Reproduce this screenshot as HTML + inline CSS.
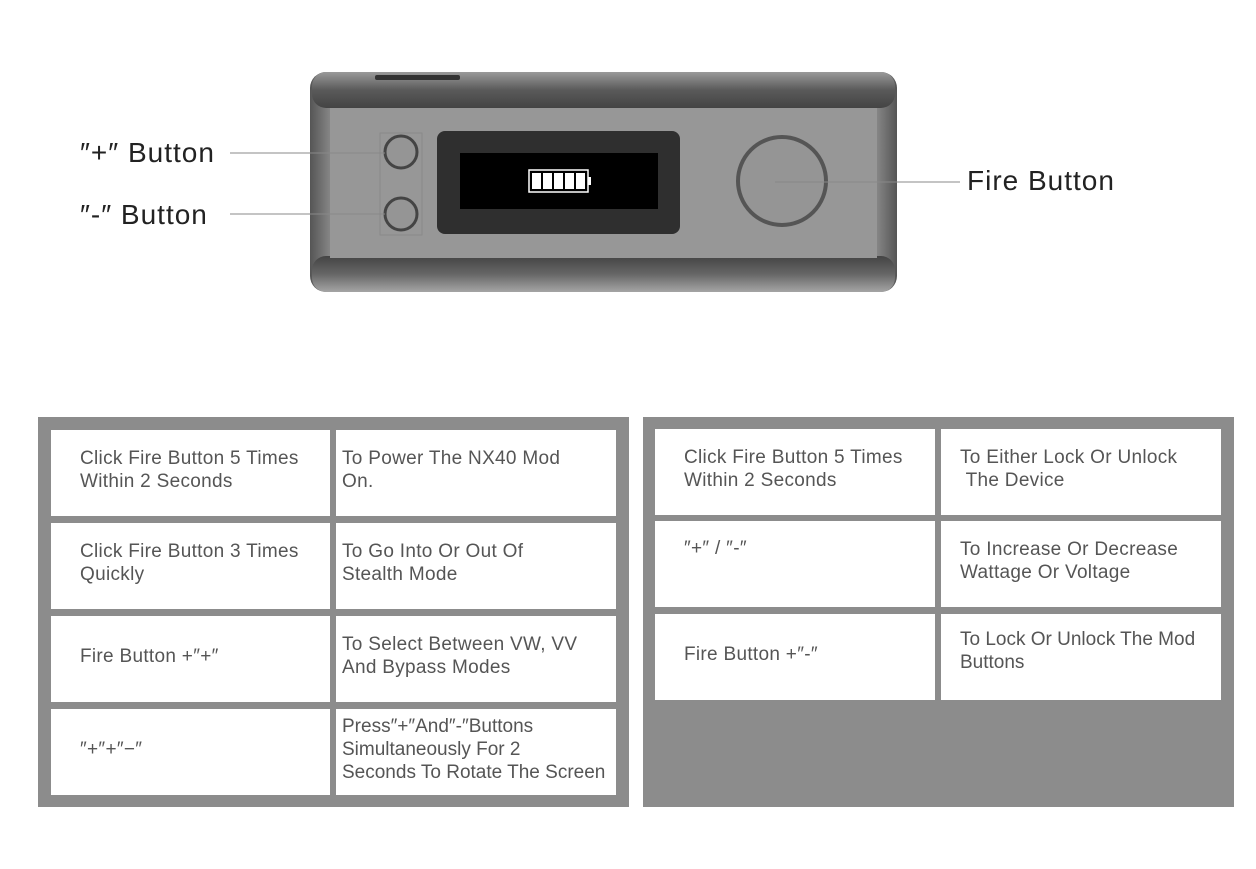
<!DOCTYPE html>
<html><head><style>
body{margin:0;width:1256px;height:869px;background:#fff;position:relative;font-family:"Liberation Sans",sans-serif;overflow:hidden}
.p{position:absolute;background:#8c8c8c}
.c{position:absolute;background:#fff;color:#555;font-size:19px;line-height:23px;display:flex;align-items:center;box-sizing:border-box;padding-left:6px;padding-bottom:6px;letter-spacing:0.3px;white-space:nowrap}
.c.a{padding-left:29px}
.lbl{position:absolute;font-size:28px;color:#222;letter-spacing:1px}
</style></head><body>
<svg width="1256" height="330" style="position:absolute;left:0;top:0">
<defs>
<linearGradient id="g1" x1="0" y1="0" x2="0" y2="1"><stop offset="0" stop-color="#9a9a9a"/><stop offset="0.5" stop-color="#5a5a5a"/><stop offset="1" stop-color="#444"/></linearGradient>
<linearGradient id="g2" x1="0" y1="0" x2="0" y2="1"><stop offset="0" stop-color="#444"/><stop offset="0.5" stop-color="#666"/><stop offset="1" stop-color="#a5a5a5"/></linearGradient>
<linearGradient id="gs" x1="0" y1="0" x2="1" y2="0"><stop offset="0" stop-color="#555"/><stop offset="0.04" stop-color="#8e8e8e"/><stop offset="0.96" stop-color="#8e8e8e"/><stop offset="1" stop-color="#555"/></linearGradient>
</defs>
<rect x="310" y="72" width="587" height="220" rx="16" fill="url(#gs)"/>
<rect x="312" y="72" width="583" height="36" rx="14" fill="url(#g1)"/>
<rect x="312" y="256" width="583" height="36" rx="14" fill="url(#g2)"/>
<rect x="330" y="108" width="547" height="150" fill="#979797"/>
<rect x="375" y="75" width="85" height="5" rx="2" fill="#333"/>
<rect x="437" y="131" width="243" height="103" rx="8" fill="#2f2f2f"/>
<rect x="460" y="153" width="198" height="56" fill="#000"/>
<rect x="529" y="170" width="59" height="22" fill="none" stroke="#fff" stroke-width="1.5"/>
<rect x="588" y="177" width="3" height="8" fill="#fff"/>
<g fill="#fff"><rect x="532" y="173" width="9" height="16"/><rect x="543" y="173" width="9" height="16"/><rect x="554" y="173" width="9" height="16"/><rect x="565" y="173" width="9" height="16"/><rect x="576" y="173" width="9" height="16"/></g>
<rect x="380" y="133" width="42" height="102" fill="none" stroke="#8a8a8a"/>
<circle cx="401" cy="152" r="16" fill="#959595" stroke="#444" stroke-width="3"/>
<circle cx="401" cy="214" r="16" fill="#959595" stroke="#444" stroke-width="3"/>
<circle cx="782" cy="181" r="44" fill="#959595" stroke="#555" stroke-width="4"/>
<line x1="230" y1="153" x2="385" y2="153" stroke="#888"/>
<line x1="230" y1="214" x2="385" y2="214" stroke="#888"/>
<line x1="775" y1="182" x2="960" y2="182" stroke="#888"/>
</svg>
<div class="lbl" style="left:80px;top:137px">″+″ Button</div>
<div class="lbl" style="left:80px;top:199px">″-″ Button</div>
<div class="lbl" style="left:967px;top:165px">Fire Button</div>

<div class="p" style="left:38px;top:417px;width:591px;height:390px"></div>
<div class="c a" style="left:51px;top:430px;width:279px;height:86px">Click Fire Button 5 Times<br>Within 2 Seconds</div>
<div class="c" style="left:336px;top:430px;width:280px;height:86px">To Power The NX40 Mod<br>On.</div>
<div class="c a" style="left:51px;top:523px;width:279px;height:86px">Click Fire Button 3 Times<br>Quickly</div>
<div class="c" style="left:336px;top:523px;width:280px;height:86px">To Go Into Or Out Of<br>Stealth Mode</div>
<div class="c a" style="left:51px;top:616px;width:279px;height:86px">Fire Button +″+″</div>
<div class="c" style="left:336px;top:616px;width:280px;height:86px">To Select Between VW, VV<br>And Bypass Modes</div>
<div class="c a" style="left:51px;top:709px;width:279px;height:86px">″+″+″−″</div>
<div class="c" style="left:336px;top:709px;width:280px;height:86px;letter-spacing:0">Press″+″And″-″Buttons<br>Simultaneously For 2<br>Seconds To Rotate The Screen</div>

<div class="p" style="left:643px;top:417px;width:591px;height:390px"></div>
<div class="c a" style="left:655px;top:429px;width:280px;height:86px">Click Fire Button 5 Times<br>Within 2 Seconds</div>
<div class="c" style="left:941px;top:429px;width:280px;height:86px;padding-left:19px">To Either Lock Or Unlock<br>&nbsp;The Device</div>
<div class="c a" style="left:655px;top:521px;width:280px;height:86px;align-items:flex-start;padding-top:16px">″+″ / ″-″</div>
<div class="c" style="left:941px;top:521px;width:280px;height:86px;padding-left:19px">To Increase Or Decrease<br>Wattage Or Voltage</div>
<div class="c a" style="left:655px;top:614px;width:280px;height:86px">Fire Button +″-″</div>
<div class="c" style="left:941px;top:614px;width:280px;height:86px;padding-left:19px;align-items:flex-start;padding-top:14px;letter-spacing:0">To Lock Or Unlock The Mod<br>Buttons</div>
</body></html>
